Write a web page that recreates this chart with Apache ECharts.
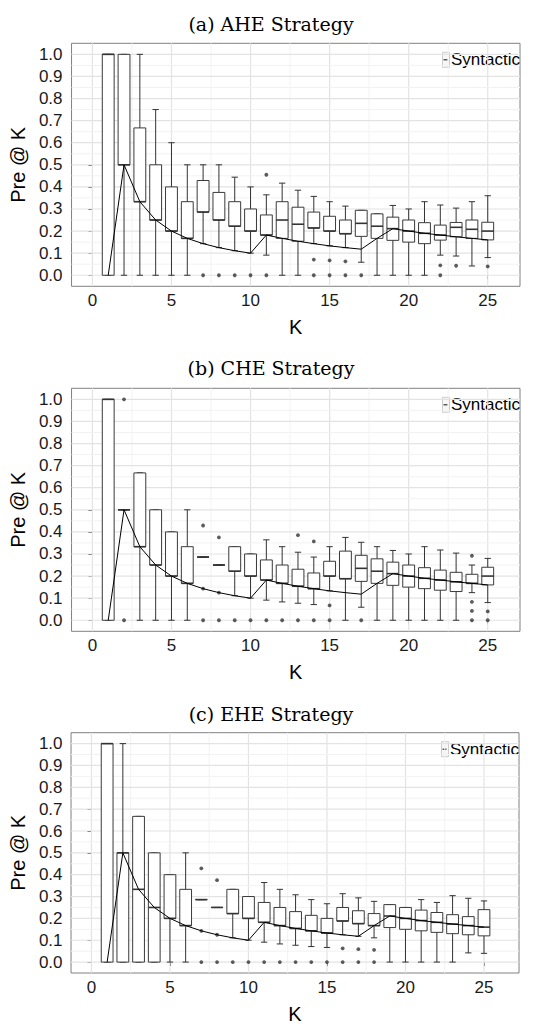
<!DOCTYPE html>
<html>
<head>
<meta charset="utf-8">
<script src="https://cdn.jsdelivr.net/npm/echarts@6/dist/echarts.min.js"></script>
<style>
  html, body { margin: 0; padding: 0; background: #ffffff; }
  #chart { width: 548px; height: 1025px; }
</style>
</head>
<body>
<div id="chart"></div>
<script>
// ---- values ----
const kValues = [1, 2, 3, 4, 5, 6, 7, 8, 9, 10, 11, 12, 13, 14, 15, 16, 17, 18, 19, 20, 21, 22, 23, 24, 25];
const precisionAtK = [0, 0.5, 0.333, 0.25, 0.2, 0.167, 0.143, 0.125, 0.111, 0.1, 0.182, 0.167, 0.154, 0.143, 0.133, 0.125, 0.118, 0.167, 0.211, 0.2, 0.19, 0.182, 0.174, 0.167, 0.16];

const xTickValues = [0, 5, 10, 15, 20, 25];
const yTickValues = [0, 0.1, 0.2, 0.3, 0.4, 0.5, 0.6, 0.7, 0.8, 0.9, 1.0];
const xMinorValues = [2.5, 7.5, 12.5, 17.5, 22.5];
const yMinorValues = [0.05, 0.15, 0.25, 0.35, 0.45, 0.55, 0.65, 0.75, 0.85, 0.95];

const panelTitles = ['(a) AHE Strategy', '(b) CHE Strategy', '(c) EHE Strategy'];
const legendLabel = 'Syntactic';

// (a) AHE
const aheLow    = [0, 0,   0,     0,    0,   0,     0.143, 0.125, 0.111, 0.1, 0.091, 0,     0,     0.143, 0.133, 0.125, 0.059, 0,     0,     0,    0,     0.091, 0.087, 0.042, 0.08];
const aheQ1     = [0, 0.5, 0.333, 0.25, 0.2, 0.167, 0.286, 0.25,  0.222, 0.2, 0.182, 0.167, 0.154, 0.214, 0.2,   0.188, 0.176, 0.167, 0.158, 0.15, 0.143, 0.159, 0.174, 0.167, 0.16];
const aheMedian = [1, 0.5, 0.333, 0.25, 0.2, 0.167, 0.286, 0.25,  0.222, 0.2, 0.182, 0.25,  0.231, 0.214, 0.2,   0.188, 0.235, 0.222, 0.211, 0.2,  0.19,  0.182, 0.217, 0.208, 0.2];
const aheQ3     = [1, 1,   0.667, 0.5,  0.4, 0.333, 0.429, 0.375, 0.333, 0.3, 0.273, 0.333, 0.308, 0.286, 0.267, 0.25,  0.294, 0.278, 0.263, 0.25, 0.238, 0.227, 0.239, 0.25,  0.24];
const aheHigh   = [1, 1,   1,     0.75, 0.6, 0.5,   0.5,   0.5,   0.444, 0.4, 0.364, 0.417, 0.385, 0.357, 0.333, 0.313, 0.294, 0.278, 0.316, 0.3,  0.333, 0.318, 0.304, 0.333, 0.36];
const aheOutliers = [[7, 0], [8, 0], [9, 0], [10, 0], [11, 0.455], [11, 0], [14, 0.071], [14, 0], [15, 0.067], [15, 0],
  [16, 0.063], [16, 0], [17, 0], [22, 0.045], [22, 0], [23, 0.043], [25, 0.04]];

// (b) CHE
const cheLow    = [0, 0.5, 0,     0,    0,   0,     0.286, 0.25, 0.111, 0.1, 0.091, 0.083, 0.077, 0.071, 0.133, 0,     0.059, 0,     0,     0,    0,     0,     0,     0.125, 0.08];
const cheQ1     = [0, 0.5, 0.333, 0.25, 0.2, 0.167, 0.286, 0.25, 0.222, 0.2, 0.182, 0.167, 0.154, 0.143, 0.2,   0.188, 0.176, 0.167, 0.158, 0.15, 0.143, 0.136, 0.13,  0.167, 0.16];
const cheMedian = [1, 0.5, 0.333, 0.25, 0.2, 0.167, 0.286, 0.25, 0.222, 0.2, 0.182, 0.167, 0.154, 0.143, 0.2,   0.188, 0.235, 0.222, 0.211, 0.2,  0.19,  0.182, 0.174, 0.167, 0.2];
const cheQ3     = [1, 0.5, 0.667, 0.5,  0.4, 0.333, 0.286, 0.25, 0.333, 0.3, 0.273, 0.25,  0.231, 0.214, 0.267, 0.313, 0.294, 0.278, 0.263, 0.25, 0.238, 0.227, 0.217, 0.208, 0.24];
const cheHigh   = [1, 0.5, 0.667, 0.5,  0.4, 0.5,   0.286, 0.25, 0.333, 0.3, 0.364, 0.333, 0.308, 0.286, 0.333, 0.375, 0.353, 0.333, 0.316, 0.3,  0.333, 0.318, 0.304, 0.25,  0.28];
const cheOutliers = [[2, 1], [2, 0], [7, 0.429], [7, 0.143], [7, 0], [8, 0.375], [8, 0.125], [8, 0], [9, 0], [10, 0], [11, 0], [12, 0],
  [13, 0.385], [13, 0], [14, 0.357], [14, 0], [15, 0.067], [15, 0], [17, 0], [24, 0.292], [24, 0.083], [24, 0.042], [24, 0], [25, 0.04], [25, 0]];

// (c) EHE
const eheLow    = [0, 0,   0,     0,    0,   0,     0.286, 0.25, 0.111, 0.1, 0.091, 0.083, 0.077, 0.071, 0.067, 0.125, 0.118, 0.111, 0,     0,    0,     0,     0,     0.042, 0.04];
const eheQ1     = [0, 0,   0,     0,    0.2, 0.167, 0.286, 0.25, 0.222, 0.2, 0.182, 0.167, 0.154, 0.143, 0.133, 0.188, 0.176, 0.167, 0.158, 0.15, 0.143, 0.136, 0.13,  0.125, 0.12];
const eheMedian = [1, 0.5, 0.333, 0.25, 0.2, 0.167, 0.286, 0.25, 0.222, 0.2, 0.182, 0.167, 0.154, 0.143, 0.133, 0.188, 0.176, 0.167, 0.211, 0.2,  0.19,  0.182, 0.174, 0.167, 0.16];
const eheQ3     = [1, 0.5, 0.667, 0.5,  0.4, 0.333, 0.286, 0.25, 0.333, 0.3, 0.273, 0.25,  0.231, 0.214, 0.2,   0.25,  0.235, 0.222, 0.263, 0.25, 0.238, 0.227, 0.217, 0.208, 0.24];
const eheHigh   = [1, 1,   0.667, 0.5,  0.4, 0.5,   0.286, 0.25, 0.333, 0.3, 0.364, 0.333, 0.308, 0.286, 0.267, 0.313, 0.294, 0.278, 0.263, 0.25, 0.286, 0.273, 0.304, 0.292, 0.28];
const eheOutliers = [[7, 0.429], [7, 0.143], [7, 0], [8, 0.375], [8, 0.125], [8, 0], [9, 0], [10, 0], [11, 0], [12, 0], [13, 0], [14, 0], [15, 0],
  [16, 0.063], [16, 0], [17, 0.059], [17, 0], [18, 0.056], [18, 0]];

// ---- layout ----
const SANS = 'Liberation Sans, Arial, Helvetica, sans-serif';
const SERIF = 'DejaVu Serif, serif';
const BOX_WIDTH = 0.75;   // in K units
const CAP_WIDTH = 0.4;
const Y_MIN = -0.05, Y_MAX = 1.05;

const panels = [
  { title: panelTitles[0], titleTop: 9,   left: 69,   top: 43.3,  width: 451,   height: 243, xMin: -1.32, xMax: 27.04, nameGap: 37, labelMargin: 9,
    low: aheLow, q1: aheQ1, median: aheMedian, q3: aheQ3, high: aheHigh, outliers: aheOutliers },
  { title: panelTitles[1], titleTop: 353, left: 69,   top: 388.3, width: 451,   height: 243, xMin: -1.32, xMax: 27.04, nameGap: 37, labelMargin: 9,
    low: cheLow, q1: cheQ1, median: cheMedian, q3: cheQ3, high: cheHigh, outliers: cheOutliers },
  { title: panelTitles[2], titleTop: 699, left: 65.3, top: 732.7, width: 453.7, height: 243, xMin: -1.30, xMax: 27.23, nameGap: 38, labelMargin: 8.5,
    low: eheLow, q1: eheQ1, median: eheMedian, q3: eheQ3, high: eheHigh, outliers: eheOutliers }
];

const chart = echarts.init(document.getElementById('chart'), null, { renderer: 'svg' });

const grids = [], xAxes = [], yAxes = [], series = [], titles = [], graphics = [];

function boxRenderer(params, api) {
  const k = api.value(0);
  const at = (i) => api.coord([k, api.value(i)]);
  const lo = at(1), q1 = at(2), md = at(3), q3 = at(4), hi = at(5);
  const halfBox = api.size([BOX_WIDTH, 0])[0] / 2;
  const halfCap = api.size([CAP_WIDTH, 0])[0] / 2;
  const x = lo[0];
  const lineStyle = { stroke: '#333333', lineWidth: 1, fill: null };
  return {
    type: 'group',
    children: [
      { type: 'line', shape: { x1: x, y1: lo[1], x2: x, y2: hi[1] }, style: lineStyle },
      { type: 'line', shape: { x1: x - halfCap, y1: lo[1], x2: x + halfCap, y2: lo[1] }, style: lineStyle },
      { type: 'line', shape: { x1: x - halfCap, y1: hi[1], x2: x + halfCap, y2: hi[1] }, style: lineStyle },
      { type: 'rect', shape: { x: x - halfBox, y: q3[1], width: halfBox * 2, height: q1[1] - q3[1] },
        style: { fill: '#ffffff', stroke: '#3a3a3a', lineWidth: 1 } },
      { type: 'line', shape: { x1: x - halfBox, y1: md[1], x2: x + halfBox, y2: md[1] },
        style: { stroke: '#333333', lineWidth: 1.6 } }
    ]
  };
}

function gridLineRenderer(panel) {
  return function (params, api) {
    const v = api.value(0);
    const horizontal = api.value(1) === 1;
    const major = api.value(2) === 1;
    const a = horizontal ? api.coord([panel.xMin, v]) : api.coord([v, Y_MIN]);
    const b = horizontal ? api.coord([panel.xMax, v]) : api.coord([v, Y_MAX]);
    return {
      type: 'line',
      shape: { x1: a[0], y1: a[1], x2: b[0], y2: b[1] },
      style: { stroke: major ? '#e3e3e3' : '#f2f2f2', lineWidth: major ? 1.2 : 1 }
    };
  };
}

panels.forEach((p, i) => {
  grids.push({ left: p.left, top: p.top, width: p.width, height: p.height, show: true,
    borderColor: '#808080', borderWidth: 1, backgroundColor: '#ffffff' });

  xAxes.push({
    gridIndex: i, type: 'value', min: p.xMin, max: p.xMax,
    axisLine: { show: false }, splitLine: { show: false },
    axisTick: { show: true, customValues: xTickValues, length: 4, lineStyle: { color: '#333333' } },
    axisLabel: { customValues: xTickValues, fontSize: 17, color: '#1a1a1a', fontFamily: SANS, margin: 6 },
    name: 'K', nameLocation: 'middle', nameGap: 31,
    nameTextStyle: { fontSize: 20, color: '#000000', fontFamily: SANS }
  });

  yAxes.push({
    gridIndex: i, type: 'value', min: Y_MIN, max: Y_MAX,
    axisLine: { show: false }, splitLine: { show: false },
    axisTick: { show: true, customValues: yTickValues, length: 4, lineStyle: { color: '#333333' } },
    axisLabel: { customValues: yTickValues, fontSize: 17, color: '#1a1a1a', fontFamily: SANS, margin: p.labelMargin,
      formatter: (v) => v.toFixed(1) },
    name: 'Pre @ K', nameLocation: 'middle', nameGap: p.nameGap,
    nameTextStyle: { fontSize: 20, color: '#000000', fontFamily: SANS }
  });

  // panel grid lines
  const gridData = [];
  xTickValues.forEach(v => gridData.push([v, 0, 1]));
  xMinorValues.forEach(v => gridData.push([v, 0, 0]));
  yTickValues.forEach(v => gridData.push([v, 1, 1]));
  yMinorValues.forEach(v => gridData.push([v, 1, 0]));
  series.push({
    type: 'custom', xAxisIndex: i, yAxisIndex: i, silent: true, z: 1,
    renderItem: gridLineRenderer(p), data: gridData
  });

  // whiskers + boxes
  series.push({
    name: legendLabel, type: 'custom', xAxisIndex: i, yAxisIndex: i, z: 3, silent: true,
    renderItem: boxRenderer,
    encode: { x: 0, y: [1, 2, 3, 4, 5] },
    data: kValues.map((k, j) => [k, p.low[j], p.q1[j], p.median[j], p.q3[j], p.high[j]])
  });

  // outlying points
  series.push({
    type: 'scatter', xAxisIndex: i, yAxisIndex: i, z: 4, silent: true,
    symbol: 'circle', symbolSize: 3.8, itemStyle: { color: '#333333' },
    data: p.outliers
  });

  // precision line
  series.push({
    type: 'line', xAxisIndex: i, yAxisIndex: i, z: 5, silent: true,
    symbol: 'none', lineStyle: { color: '#000000', width: 1 },
    data: kValues.map((k, j) => [k, precisionAtK[j]])
  });

  titles.push({
    text: p.title, left: 266, top: p.titleTop, textAlign: 'center',
    textStyle: { fontFamily: SERIF, fontSize: 19, fontWeight: 'normal', color: '#000000' }
  });

  // legend key and label
  const keyX = p.left + p.width - 79;
  graphics.push({
    type: 'group', left: keyX, top: p.top + 8, silent: true,
    children: [
      { type: 'rect', shape: { x: 0, y: 0, width: 7, height: 15 }, style: { fill: '#f7f7f7', stroke: '#cccccc', lineWidth: 1 } },
      { type: 'line', shape: { x1: 1, y1: 7.5, x2: 5, y2: 7.5 }, style: { stroke: '#333333', lineWidth: 1.2 } },
      { type: 'text', x: 8.5, y: 7.5, style: { text: legendLabel, fontSize: 17, fontFamily: SANS, fill: '#000000',
        verticalAlign: 'middle', align: 'left' } }
    ]
  });
});

chart.setOption({
  backgroundColor: '#ffffff',
  animation: false,
  title: titles,
  grid: grids,
  xAxis: xAxes,
  yAxis: yAxes,
  series: series,
  graphic: graphics
});
</script>
</body>
</html>
